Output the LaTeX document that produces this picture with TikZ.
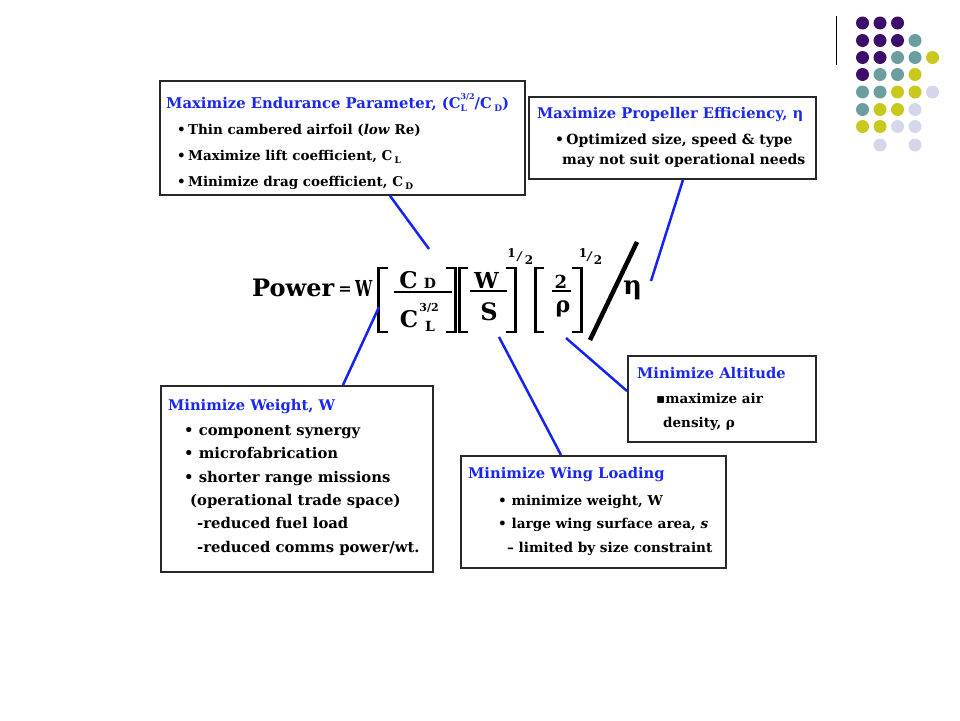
\documentclass[tikz,border=0pt]{standalone}
\usepackage{fontspec}
\setmainfont{DejaVu Serif}
\newfontfamily\symfont{DejaVu Sans}
\usetikzlibrary{calc}
\definecolor{ttlblue}{RGB}{25,40,235}
\definecolor{connblue}{RGB}{20,35,240}
\definecolor{boxc}{RGB}{40,40,40}
\definecolor{dotP}{RGB}{60,14,105}
\definecolor{dotT}{RGB}{108,158,160}
\definecolor{dotY}{RGB}{200,200,30}
\definecolor{dotL}{RGB}{214,214,234}
\newcommand{\FS}[1]{\fontsize{#1}{#1}\selectfont}
\newlength\sslen
\newcommand{\SupSubLR}[2]{\settowidth{\sslen}{\FS{8}#1}\rlap{\raisebox{1.05ex}{\FS{8}#1}}\makebox[\sslen][l]{\raisebox{-0.45ex}{\FS{9}#2}}}
\newcommand{\SubLR}[1]{\raisebox{-0.45ex}{\FS{9}#1}}
\begin{document}
\begin{tikzpicture}[x=1pt,y=-1pt,
  box/.style={draw=boxc, line width=1.8pt, fill=white, anchor=north west, inner sep=0pt},
  txt/.style={anchor=base west, inner sep=0pt, font=\bfseries},
  ttl/.style={txt, text=ttlblue, font=\bfseries\FS{14.7}},
  bodyA/.style={txt, font=\bfseries\FS{13.5}},
  bodyB/.style={txt, font=\bfseries\FS{14}},
  bodyC/.style={txt, font=\bfseries\FS{14.8}},
  bodyD/.style={txt, font=\bfseries\FS{13.6}},
  bodyE/.style={txt, font=\bfseries\FS{13.5}},
  eq/.style={anchor=base, inner sep=0pt, font=\bfseries\FS{#1}},
  conn/.style={draw=connblue, line width=2.5pt},
  brk/.style={line width=2.8pt, line cap=butt, line join=miter},
  fbar/.style={line width=2.4pt},
  dot/.style={circle, inner sep=0pt, minimum size=13pt}
]
\useasboundingbox (0,0) rectangle (960,720);

% decorative dots and line
\draw[line width=1.2pt] (836.5,16) -- (836.5,65);
\foreach \c [count=\i from 0] in {P,P,P}{\node[dot, fill=dot\c] (dA\i) at ({862.5+17.5*\i},23) {};}
\foreach \c [count=\i from 0] in {P,P,P,T}{\node[dot, fill=dot\c] (dB\i) at ({862.5+17.5*\i},40.5) {};}
\foreach \c [count=\i from 0] in {P,P,T,T,Y}{\node[dot, fill=dot\c] (dC\i) at ({862.5+17.5*\i},57.5) {};}
\foreach \c [count=\i from 0] in {P,T,T,Y}{\node[dot, fill=dot\c] (dD\i) at ({862.5+17.5*\i},74.5) {};}
\foreach \c [count=\i from 0] in {T,T,Y,Y,L}{\node[dot, fill=dot\c] (dE\i) at ({862.5+17.5*\i},92) {};}
\foreach \c [count=\i from 0] in {T,Y,Y,L}{\node[dot, fill=dot\c] (dF\i) at ({862.5+17.5*\i},109.5) {};}
\foreach \c [count=\i from 0] in {Y,Y,L,L}{\node[dot, fill=dot\c] (dG\i) at ({862.5+17.5*\i},126.5) {};}
\node[dot, fill=dotL] (dH1) at (880,145) {};
\node[dot, fill=dotL] (dH3) at (915,145) {};

% boxes
\node[box, minimum width=365pt, minimum height=114pt] (b1) at (159,80) {};
\node[box, minimum width=287pt, minimum height=82pt] (b2) at (528,96) {};
\node[box, minimum width=272pt, minimum height=186pt] (b3) at (160,385) {};
\node[box, minimum width=265pt, minimum height=112pt] (b4) at (460,455) {};
\node[box, minimum width=188pt, minimum height=86pt] (b5) at (627,355) {};

% box 1
\node[ttl, font=\bfseries\FS{14.8}] (t10) at (166,108) {Maximize Endurance Parameter, (C\SupSubLR{3/2}{L}/C\,\SubLR{D})};
\node[bodyA] (t11) at (177,134) {•\,Thin cambered airfoil (\textit{low} Re)};
\node[bodyA] (t12) at (177,160) {•\,Maximize lift coefficient, C\,\SubLR{L}};
\node[bodyA] (t13) at (177,186) {•\,Minimize drag coefficient, C\,\SubLR{D}};

% box 2
\node[ttl] (t20) at (537,118) {Maximize Propeller Efficiency, η};
\node[bodyB] (t21) at (555,144) {•\,Optimized size, speed \& type};
\node[bodyB] (t22) at (562,164) {may not suit operational needs};

% box 3
\node[ttl] (t30) at (168,410) {Minimize Weight, W};
\node[bodyC] (t31) at (184,435) {• component synergy};
\node[bodyC] (t32) at (184,458) {• microfabrication};
\node[bodyC] (t33) at (184,482) {• shorter range missions};
\node[bodyC] (t34) at (190,505) {(operational trade space)};
\node[bodyC] (t35) at (197,528) {-reduced fuel load};
\node[bodyC] (t36) at (197,552) {-reduced comms power/wt.};

% box 4
\node[ttl] (t40) at (468,478) {Minimize Wing Loading};
\node[bodyD] (t41) at (498,505) {• minimize weight, W};
\node[bodyD] (t42) at (498,528) {• large wing surface area, \textit{s}};
\node[bodyD] (t43) at (507,552) {– limited by size constraint};

% box 5
\node[ttl] (t50) at (637,378) {Minimize Altitude};
\node[bodyE] (t51) at (656,403) {{\symfont ▪}maximize air};
\node[bodyE] (t52) at (663,427) {density, ρ};

% equation
\node[txt, font=\bfseries\FS{24}] (pw) at (252,296) {Power};
\node[eq=16] (eqs) at (345,294) {=};
\node[txt, font=\bfseries\FS{22}] (w0) at (355,296) {\scalebox{0.7}[1]{W}};
% fraction 1
\node[eq=23] (cn) at (408.5,288) {C};
\node[eq=14] (dn) at (430,288) {D};
\draw[fbar] (394,292) -- (452,292);
\node[eq=23] (cd) at (409,327) {C};
\node[eq=11] (pw32) at (429,311) {3/2};
\node[eq=14] (ld) at (430,331) {L};
\draw[brk] (388,268) -- (378.5,268) -- (378.5,332) -- (388,332);
\draw[brk] (446,268) -- (455.5,268) -- (455.5,332) -- (446,332);
% fraction 2
\node[eq=22] (wn) at (486.5,288) {W};
\draw[fbar] (470,291) -- (507,291);
\node[eq=24] (sd) at (489,320) {S};
\draw[brk] (468,268) -- (459.5,268) -- (459.5,332) -- (468,332);
\draw[brk] (506,268) -- (515.5,268) -- (515.5,332) -- (506,332);
\node[eq=12] (e1a) at (511.5,257) {1};
\node[eq=12] (e1b) at (520,260) {\textit{/}};
\node[eq=12] (e1c) at (529,264) {2};
% fraction 3
\node[eq=18] (tn) at (561,288) {2};
\draw[fbar] (552,291) -- (571,291);
\node[eq=22] (rho) at (563,312) {ρ};
\draw[brk] (544,268) -- (535.5,268) -- (535.5,332) -- (544,332);
\draw[brk] (572,268) -- (581.5,268) -- (581.5,332) -- (572,332);
\node[eq=12] (e2a) at (583,257) {1};
\node[eq=12] (e2b) at (590,260) {\textit{/}};
\node[eq=12] (e2c) at (598,264) {2};
% big slash and eta
\coordinate (sl1) at (637,242);
\coordinate (sl2) at (590,340);
\draw[line width=4.5pt] (sl1) -- (sl2);
\node[eq=26] (eta) at (632.5,294) {η};

% connector end points on equation
\coordinate (e1) at (429,249);
\coordinate (e2) at (651,281);
\coordinate (e3) at (379,307);
\coordinate (e4) at (499,337);
\coordinate (e5) at (566,338);

% connectors
\draw[conn] ([xshift=231pt]b1.south west) -- (e1);
\draw[conn] ([xshift=155pt]b2.south west) -- (e2);
\draw[conn] ([xshift=183pt]b3.north west) -- (e3);
\draw[conn] ([xshift=101pt]b4.north west) -- (e4);
\draw[conn] ([yshift=-36pt]b5.north west) -- (e5);
\end{tikzpicture}
\end{document}
